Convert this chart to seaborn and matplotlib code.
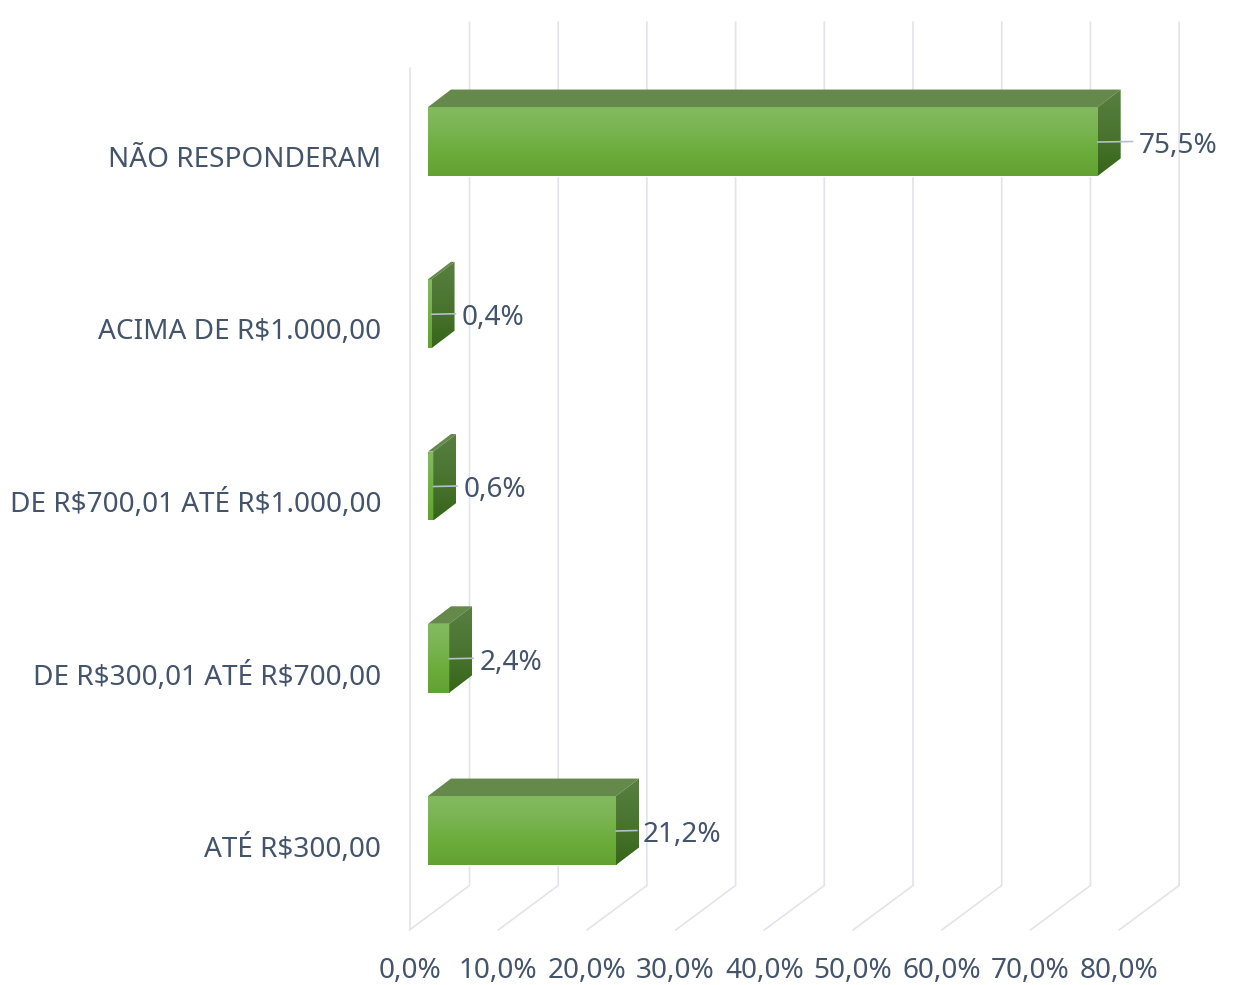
import numpy as np
import pandas as pd
import matplotlib
matplotlib.use("Agg")
import matplotlib.pyplot as plt
from matplotlib.colors import LinearSegmentedColormap
from matplotlib.patches import Polygon
from matplotlib.transforms import ScaledTranslation
import seaborn as sns

categories = ["NÃO RESPONDERAM", "ACIMA DE R$1.000,00", "DE R$700,01 ATÉ R$1.000,00",
              "DE R$300,01 ATÉ R$700,00", "ATÉ R$300,00"]
values = [75.5, 0.4, 0.6, 2.4, 21.2]
value_labels = ["75,5%", "0,4%", "0,6%", "2,4%", "21,2%"]
x_ticks = [0, 10, 20, 30, 40, 50, 60, 70, 80]
x_tick_labels = ["0,0%", "10,0%", "20,0%", "30,0%", "40,0%", "50,0%", "60,0%", "70,0%", "80,0%"]

W, H = 1234, 985
TEXT = "#44546A"
GRID = "#E3E4EA"
LEADER = "#B4BFCC"
FONT = "Noto Sans"
FS = 20.1

sns.set_theme(style="white")
plt.rcParams["font.family"] = [FONT, "DejaVu Sans"]

fig = plt.figure(figsize=(W / 100, H / 100), dpi=100, facecolor="white")
L, R, T, B = 428, 1180, 22, 930
ax = fig.add_axes([L / W, 1 - B / H, (R - L) / W, (B - T) / H])

df = pd.DataFrame({"faixa": categories, "pct": values})
sns.barplot(data=df, x="pct", y="faixa", orient="h", width=0.4, color="#6BAC3A",
            saturation=1, ax=ax, zorder=3)

PX_X = 8.87      # pixels per percentage point
PX_Y = 172.25    # pixels per category
ax.set_xlim(0, (R - L) / PX_X)
ax.set_ylim((B - 141.5) / PX_Y, (T - 141.5) / PX_Y)
ax.set_xlabel("")
ax.set_ylabel("")
sns.despine(ax=ax, left=True, bottom=True, top=True, right=True)
ax.patch.set_alpha(0)


def dx(px):
    return px / PX_X


def dy(px):
    return px / PX_Y


# Walls: floor and back-wall rules
y_floor = ax.get_ylim()[0]
y_wall_top = ax.get_ylim()[1]
for t in x_ticks:
    x_front = t + dx(-18.5)
    x_back = x_front + dx(60)
    ax.plot([x_front, x_back, x_back], [y_floor, y_floor - dy(44.5), y_wall_top],
            color=GRID, lw=1.2, clip_on=False, zorder=1, solid_joinstyle="miter")
ax.plot([dx(-18.5)] * 2, [y_floor, y_floor - dy(862)], color=GRID, lw=1.2, clip_on=False, zorder=1)

front_cmap = LinearSegmentedColormap.from_list("f", ["#83BA60", "#79B451", "#6BAC3A", "#62A133"])
side_cmap = LinearSegmentedColormap.from_list("s", ["#587F41", "#4A7530", "#37651A"])
grad = np.linspace(0, 1, 128).reshape(-1, 1)
DEPTH_X, DEPTH_Y = 23, 17.5

pads = [41, 30, 30, 30, 27]

for patch, lab, pad in zip(ax.patches, value_labels, pads):
    x0, y0 = patch.get_x(), patch.get_y()
    w, h = patch.get_width(), patch.get_height()
    x1, y1 = x0 + w, y0 + h  # y0 top, y1 bottom (inverted axis)
    ox, oy = dx(DEPTH_X), dy(DEPTH_Y)

    # front gradient
    im = ax.imshow(grad, cmap=front_cmap, aspect="auto", extent=(x0, x1, y1, y0),
                   origin="upper", zorder=4)
    im.set_clip_path(patch)

    # top face
    ax.add_patch(Polygon([(x0, y0), (x0 + ox, y0 - oy), (x1 + ox, y0 - oy), (x1, y0)],
                         closed=True, fc="#64894A", ec="none", zorder=4))

    # side face
    side = Polygon([(x1, y0), (x1 + ox, y0 - oy), (x1 + ox, y1 - oy), (x1, y1)],
                   closed=True, fc="none", ec="none", zorder=4)
    ax.add_patch(side)
    im2 = ax.imshow(grad, cmap=side_cmap, aspect="auto",
                    extent=(x1, x1 + ox, y1, y0 - oy), origin="upper", zorder=4)
    im2.set_clip_path(side)

    # leader + label
    yc = (y0 + y1) / 2
    ax.plot([x1, x1 + dx(pad - 6)], [yc + dy(0.5), yc], color=LEADER, lw=1.2, zorder=5, clip_on=False)
    ax.text(x1 + dx(pad), yc + dy(4.5), lab, color=TEXT, fontsize=FS, ha="left", va="center",
            zorder=6, clip_on=False)

ax.set_xlim(0, (R - L) / PX_X)
ax.set_ylim((B - 141.5) / PX_Y, (T - 141.5) / PX_Y)

ax.set_xticks(x_ticks, x_tick_labels)
ax.tick_params(axis="x", length=0, pad=19.5, labelsize=FS, labelcolor=TEXT)
ax.tick_params(axis="y", length=0, pad=47 * 0.72, labelsize=FS, labelcolor=TEXT)
shift_x = ScaledTranslation(-18.5 / 100, 0, fig.dpi_scale_trans)
shift_y = ScaledTranslation(0, -15 / 100, fig.dpi_scale_trans)
for t in ax.get_xticklabels():
    t.set_transform(t.get_transform() + shift_x)
for t in ax.get_yticklabels():
    t.set_parse_math(False)
    t.set_transform(t.get_transform() + shift_y)

fig.savefig("out.png", dpi=100, facecolor="white")
